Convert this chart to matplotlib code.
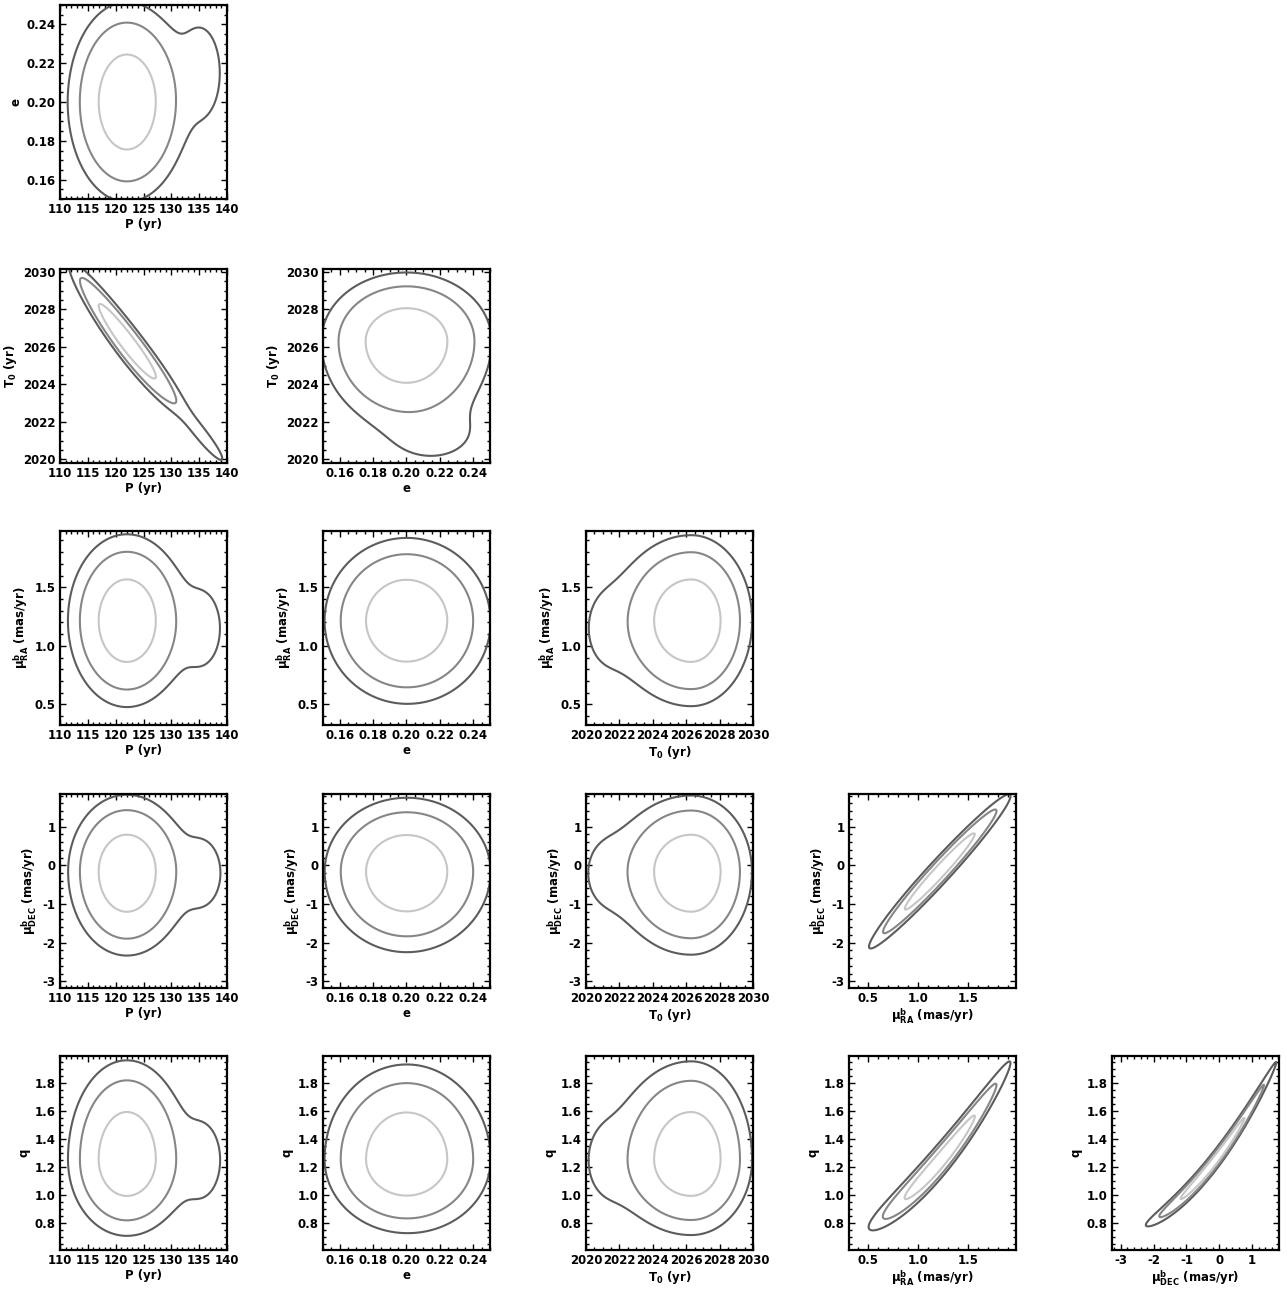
import numpy as np
import matplotlib
matplotlib.use("Agg")
import matplotlib.pyplot as plt
from matplotlib.ticker import MultipleLocator, FormatStrFormatter

plt.rcParams['font.family'] = ['DejaVu Sans']
plt.rcParams['font.weight'] = 'bold'
plt.rcParams['mathtext.fontset'] = 'custom'
plt.rcParams['mathtext.rm'] = 'DejaVu Sans:bold'
plt.rcParams['mathtext.it'] = 'DejaVu Sans:bold'
plt.rcParams['mathtext.bf'] = 'DejaVu Sans:bold'
plt.rcParams['mathtext.default'] = 'rm'

# ---------------- data ----------------
param_names = ['P', 'e', 'T0', 'muRA', 'muDEC', 'q']
axis_labels = ['P (yr)', 'e', r'T$_0$ (yr)', r'$\mu^{b}_{RA}$ (mas/yr)',
               r'$\mu^{b}_{DEC}$ (mas/yr)', 'q']

# core of the posterior: centre and one-sided widths
core_mean = [122.0, 0.200, 2026.3, 1.215, -0.16, 1.255]
core_sig_lo = [3.3, 0.016, 1.45, 0.23, 0.68, 0.17]
core_sig_hi = [3.4, 0.016, 1.15, 0.23, 0.62, 0.22]
core_weight = 0.986

# weak tail of long periods / early periastron
tail_mean = [135.0, 0.215, 2021.5, 1.15, -0.20, 1.25]
tail_sig = [3.5, 0.022, 1.3, 0.30, 0.80, 0.25]
tail_weight = 0.014

# pair correlations (x index < y index) and ridge curvature
pair_rho = {(0, 2): -0.95, (3, 4): 0.977, (3, 5): 0.975, (4, 5): 0.992}
pair_curv = {(0, 2): 0.002, (3, 5): 0.23, (4, 5): 0.039}

# enclosed probability of the three contours
contour_mass = [0.68, 0.95, 0.99]
contour_colors = ['#c6c6c6', '#868686', '#5c5c5c']

# axis ranges, x (as column) and y (as row)
x_limits = {0: (110, 140), 1: (0.15, 0.25), 2: (2020, 2030),
            3: (0.31, 1.975), 4: (-3.27, 1.82)}
y_limits = {1: (0.15, 0.25), 2: (2019.8, 2030.15), 3: (0.325, 1.98),
            4: (-3.17, 1.84), 5: (0.61, 1.99)}
major_step = [5, 0.02, 2, 0.5, 1, 0.2]
minor_step = [1, 0.005, 0.5, 0.1, 0.2, 0.05]
tick_fmt = ['%d', '%.2f', '%d', '%.1f', '%d', '%.1f']

# ---------------- model ----------------
def split_norm(x, m, slo, shi):
    s = np.where(x < m, slo, shi)
    return np.exp(-0.5 * ((x - m) / s) ** 2) * 2.0 / (np.sqrt(2 * np.pi) * (slo + shi))


def gauss(x, m, s):
    return np.exp(-0.5 * ((x - m) / s) ** 2) / (np.sqrt(2 * np.pi) * s)


def comp_density(mean, slo, shi, i, j, X, Y):
    fx = split_norm(X, mean[i], slo[i], shi[i])
    rho = pair_rho.get((i, j), 0.0)
    c = pair_curv.get((i, j), 0.0)
    if rho == 0.0 and c == 0.0:
        fy = split_norm(Y, mean[j], slo[j], shi[j])
    else:
        sx = 0.5 * (slo[i] + shi[i])
        sy = 0.5 * (slo[j] + shi[j])
        b = rho * sy / sx
        s = sy * np.sqrt(1 - rho ** 2)
        dx = X - mean[i]
        mu = mean[j] + b * dx + c * (dx ** 2 - sx ** 2)
        fy = gauss(Y, mu, s)
    return fx * fy


def density(i, j, X, Y):
    d = core_weight * comp_density(core_mean, core_sig_lo, core_sig_hi, i, j, X, Y)
    d += tail_weight * comp_density(tail_mean, tail_sig, tail_sig, i, j, X, Y)
    return d


def levels_for(Z):
    z = np.sort(Z.ravel())[::-1]
    cum = np.cumsum(z)
    cum /= cum[-1]
    return [z[np.searchsorted(cum, m)] for m in contour_mass]


# ---------------- figure ----------------
W, H = 1287, 1293
fig = plt.figure(figsize=(W / 100, H / 100), dpi=100)
col_left = [60, 323, 586, 849, 1112]
row_top = [5, 269, 531, 794, 1056]
pw, ph = 167, 194

for r in range(5):
    j = r + 1
    for ci in range(r + 1):
        i = ci
        ax = fig.add_axes([col_left[ci] / W, 1 - (row_top[r] + ph) / H, pw / W, ph / H])
        xl = x_limits[i]
        yl = y_limits[j]
        sx = xl[1] - xl[0]
        sy = yl[1] - yl[0]
        xs = np.linspace(xl[0] - 0.8 * sx, xl[1] + 0.8 * sx, 500)
        ys = np.linspace(yl[0] - 0.8 * sy, yl[1] + 0.8 * sy, 500)
        X, Y = np.meshgrid(xs, ys)
        Z = density(i, j, X, Y)
        lv = levels_for(Z)  # inner, middle, outer
        ax.contour(X, Y, Z, levels=sorted(lv),
                   colors=contour_colors[::-1], linewidths=1.5)
        ax.set_xlim(xl)
        ax.set_ylim(yl)
        ax.xaxis.set_major_locator(MultipleLocator(major_step[i]))
        ax.xaxis.set_minor_locator(MultipleLocator(minor_step[i]))
        ax.yaxis.set_major_locator(MultipleLocator(major_step[j]))
        ax.yaxis.set_minor_locator(MultipleLocator(minor_step[j]))
        ax.xaxis.set_major_formatter(FormatStrFormatter(tick_fmt[i]))
        ax.yaxis.set_major_formatter(FormatStrFormatter(tick_fmt[j]))
        ax.tick_params(which='both', direction='in', top=True, right=True,
                       labelsize=8.5, width=1.0, pad=3)
        ax.tick_params(which='major', length=4.5)
        ax.tick_params(which='minor', length=2.2)
        for lab in ax.get_xticklabels() + ax.get_yticklabels():
            lab.set_fontweight('bold')
        for sp in ax.spines.values():
            sp.set_linewidth(1.6)
        ax.set_xlabel(axis_labels[i], fontsize=8.5, fontweight='bold', labelpad=1)
        ax.set_ylabel(axis_labels[j], fontsize=8.5, fontweight='bold', labelpad=3)

fig.savefig('out.png', dpi=100)
